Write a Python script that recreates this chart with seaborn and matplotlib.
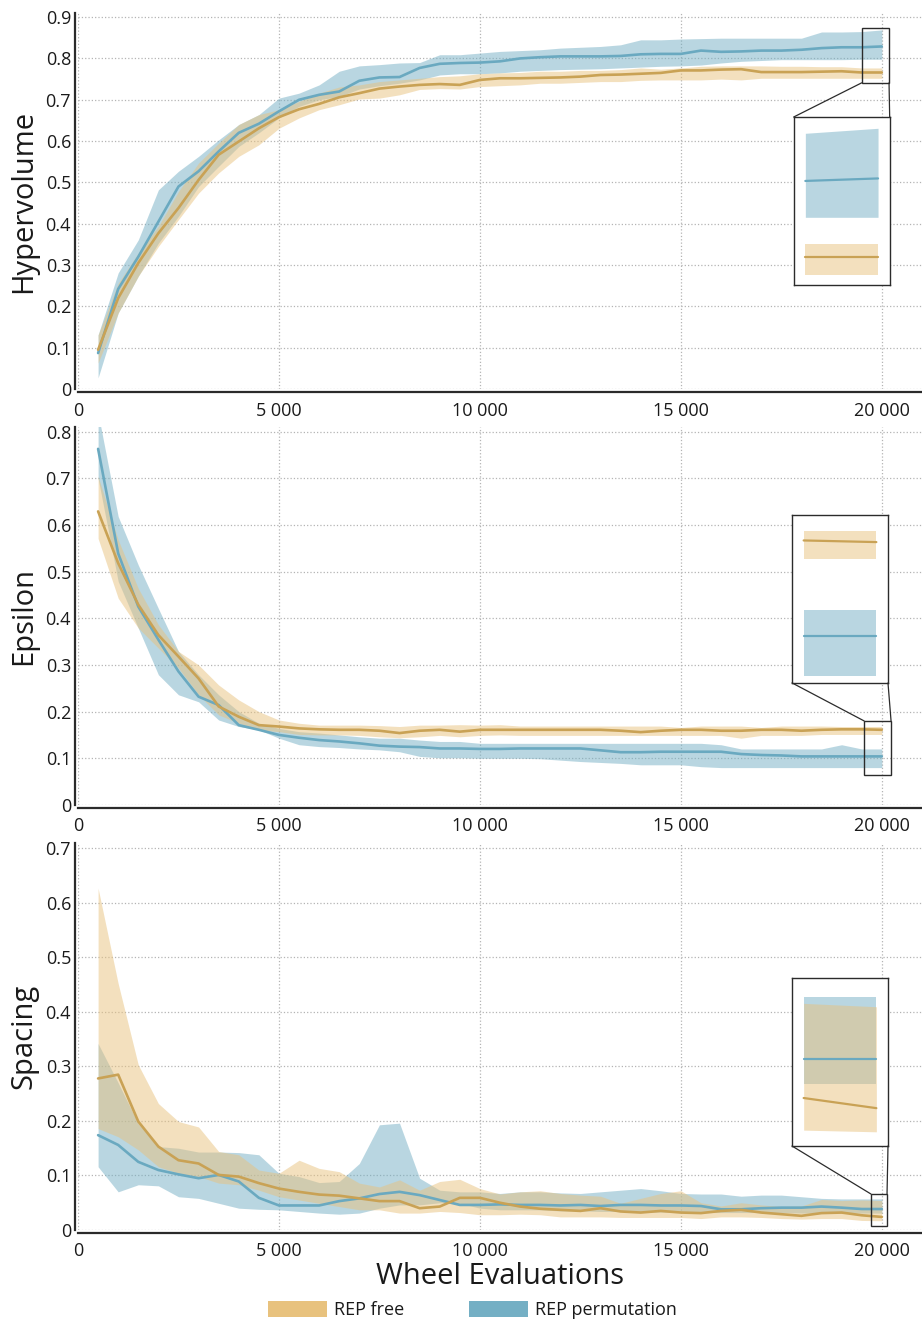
import matplotlib
matplotlib.use("Agg")
import matplotlib.pyplot as plt
import matplotlib.ticker as mticker
from matplotlib.patches import Patch, Rectangle, ConnectionPatch
import numpy as np
import pandas as pd
import seaborn as sns

# ---------------------------------------------------------------- data
EVALS = [500, 1000, 1500, 2000, 2500, 3000, 3500, 4000, 4500, 5000,
         5500, 6000, 6500, 7000, 7500, 8000, 8500, 9000, 9500, 10000,
         10500, 11000, 11500, 12000, 12500, 13000, 13500, 14000, 14500, 15000,
         15500, 16000, 16500, 17000, 17500, 18000, 18500, 19000, 19500, 20000]

SERIES = ["REP free", "REP permutation"]

# Hypervolume
hv_perm_mean = [0.087, 0.242, 0.320, 0.405, 0.490, 0.527, 0.575, 0.620, 0.642, 0.672,
                0.700, 0.712, 0.720, 0.746, 0.754, 0.755, 0.777, 0.787, 0.789, 0.790,
                0.793, 0.800, 0.803, 0.805, 0.805, 0.805, 0.806, 0.810, 0.811, 0.811,
                0.819, 0.816, 0.817, 0.819, 0.819, 0.821, 0.825, 0.827, 0.827, 0.829]
hv_perm_hi = [0.131, 0.281, 0.361, 0.482, 0.527, 0.563, 0.603, 0.640, 0.664, 0.704,
              0.716, 0.736, 0.769, 0.782, 0.785, 0.789, 0.790, 0.809, 0.809, 0.813,
              0.817, 0.819, 0.821, 0.825, 0.827, 0.829, 0.833, 0.845, 0.845, 0.847,
              0.848, 0.849, 0.849, 0.849, 0.849, 0.849, 0.864, 0.864, 0.865, 0.869]
hv_perm_lo = [0.027, 0.184, 0.273, 0.353, 0.418, 0.490, 0.539, 0.587, 0.620, 0.656,
              0.684, 0.700, 0.708, 0.726, 0.734, 0.740, 0.748, 0.760, 0.763, 0.763,
              0.765, 0.769, 0.771, 0.773, 0.774, 0.775, 0.777, 0.779, 0.781, 0.782,
              0.784, 0.789, 0.793, 0.795, 0.797, 0.797, 0.797, 0.797, 0.798, 0.798]
hv_free_mean = [0.095, 0.220, 0.305, 0.377, 0.438, 0.506, 0.567, 0.599, 0.631, 0.658,
                0.677, 0.690, 0.706, 0.716, 0.727, 0.732, 0.736, 0.738, 0.736, 0.748,
                0.752, 0.752, 0.753, 0.754, 0.756, 0.760, 0.761, 0.763, 0.765, 0.771,
                0.771, 0.773, 0.774, 0.767, 0.767, 0.767, 0.768, 0.769, 0.766, 0.766]
hv_free_hi = [0.131, 0.256, 0.329, 0.394, 0.478, 0.547, 0.595, 0.640, 0.664, 0.676,
              0.696, 0.716, 0.731, 0.736, 0.744, 0.748, 0.752, 0.756, 0.758, 0.763,
              0.765, 0.766, 0.769, 0.769, 0.771, 0.771, 0.773, 0.777, 0.774, 0.777,
              0.781, 0.782, 0.782, 0.782, 0.781, 0.781, 0.780, 0.780, 0.777, 0.777]
hv_free_lo = [0.063, 0.184, 0.273, 0.345, 0.410, 0.474, 0.523, 0.563, 0.591, 0.631,
              0.656, 0.676, 0.688, 0.702, 0.704, 0.712, 0.725, 0.727, 0.726, 0.732,
              0.734, 0.736, 0.740, 0.740, 0.742, 0.744, 0.744, 0.747, 0.748, 0.748,
              0.748, 0.750, 0.748, 0.752, 0.752, 0.752, 0.752, 0.752, 0.752, 0.752]

# Epsilon
eps_perm_mean = [0.763, 0.539, 0.425, 0.354, 0.286, 0.232, 0.214, 0.171, 0.161, 0.150,
                 0.144, 0.139, 0.136, 0.132, 0.127, 0.125, 0.124, 0.121, 0.121, 0.120,
                 0.120, 0.121, 0.121, 0.121, 0.121, 0.117, 0.113, 0.113, 0.114, 0.114,
                 0.114, 0.114, 0.109, 0.107, 0.106, 0.104, 0.104, 0.104, 0.104, 0.104]
eps_perm_hi = [0.840, 0.618, 0.514, 0.421, 0.329, 0.279, 0.236, 0.200, 0.175, 0.164,
               0.157, 0.154, 0.150, 0.146, 0.143, 0.143, 0.139, 0.136, 0.136, 0.132,
               0.132, 0.132, 0.132, 0.132, 0.132, 0.132, 0.132, 0.132, 0.132, 0.132,
               0.132, 0.129, 0.120, 0.120, 0.120, 0.120, 0.120, 0.129, 0.120, 0.120]
eps_perm_lo = [0.700, 0.479, 0.379, 0.279, 0.236, 0.221, 0.182, 0.168, 0.161, 0.143,
               0.129, 0.125, 0.123, 0.120, 0.118, 0.114, 0.104, 0.101, 0.101, 0.100,
               0.100, 0.100, 0.099, 0.096, 0.093, 0.091, 0.089, 0.086, 0.086, 0.086,
               0.082, 0.080, 0.080, 0.080, 0.080, 0.080, 0.080, 0.080, 0.080, 0.080]
eps_free_mean = [0.629, 0.518, 0.429, 0.364, 0.318, 0.271, 0.211, 0.189, 0.171, 0.168,
                 0.164, 0.162, 0.161, 0.161, 0.159, 0.154, 0.159, 0.161, 0.157, 0.161,
                 0.161, 0.161, 0.161, 0.161, 0.161, 0.161, 0.159, 0.156, 0.159, 0.161,
                 0.161, 0.159, 0.159, 0.161, 0.161, 0.159, 0.161, 0.162, 0.162, 0.161]
eps_free_hi = [0.704, 0.568, 0.464, 0.386, 0.329, 0.300, 0.257, 0.225, 0.200, 0.182,
               0.175, 0.171, 0.171, 0.171, 0.170, 0.168, 0.171, 0.171, 0.172, 0.171,
               0.172, 0.169, 0.169, 0.169, 0.169, 0.169, 0.169, 0.169, 0.169, 0.166,
               0.169, 0.169, 0.169, 0.166, 0.169, 0.169, 0.169, 0.168, 0.168, 0.168]
eps_free_lo = [0.571, 0.443, 0.379, 0.336, 0.293, 0.236, 0.193, 0.175, 0.161, 0.157,
               0.151, 0.150, 0.150, 0.149, 0.146, 0.144, 0.146, 0.149, 0.146, 0.149,
               0.150, 0.149, 0.149, 0.149, 0.149, 0.149, 0.149, 0.149, 0.149, 0.149,
               0.149, 0.149, 0.143, 0.149, 0.149, 0.149, 0.151, 0.151, 0.151, 0.151]

# Spacing
sp_perm_mean = [0.174, 0.156, 0.125, 0.110, 0.102, 0.095, 0.101, 0.089, 0.059, 0.045,
                0.045, 0.045, 0.053, 0.058, 0.066, 0.070, 0.064, 0.055, 0.046, 0.046,
                0.047, 0.046, 0.046, 0.045, 0.046, 0.044, 0.046, 0.046, 0.045, 0.045,
                0.044, 0.038, 0.038, 0.040, 0.041, 0.041, 0.043, 0.041, 0.0385, 0.0385]
sp_perm_hi = [0.342, 0.270, 0.195, 0.153, 0.150, 0.143, 0.143, 0.142, 0.138, 0.104,
              0.098, 0.087, 0.089, 0.122, 0.193, 0.196, 0.095, 0.073, 0.070, 0.070,
              0.067, 0.070, 0.070, 0.068, 0.067, 0.070, 0.073, 0.076, 0.072, 0.067,
              0.066, 0.066, 0.062, 0.064, 0.064, 0.061, 0.058, 0.057, 0.057, 0.057]
sp_perm_lo = [0.116, 0.070, 0.083, 0.081, 0.061, 0.058, 0.049, 0.040, 0.038, 0.037,
              0.034, 0.031, 0.029, 0.031, 0.040, 0.046, 0.046, 0.050, 0.049, 0.040,
              0.037, 0.037, 0.037, 0.035, 0.035, 0.034, 0.034, 0.033, 0.033, 0.033,
              0.032, 0.032, 0.032, 0.032, 0.032, 0.031, 0.031, 0.031, 0.031, 0.031]
sp_free_mean = [0.278, 0.285, 0.199, 0.153, 0.128, 0.122, 0.101, 0.098, 0.086, 0.076,
                0.070, 0.065, 0.063, 0.058, 0.053, 0.053, 0.040, 0.043, 0.059, 0.059,
                0.050, 0.043, 0.039, 0.037, 0.035, 0.040, 0.034, 0.032, 0.035, 0.032,
                0.031, 0.035, 0.037, 0.032, 0.029, 0.026, 0.031, 0.032, 0.027, 0.024]
sp_free_hi = [0.627, 0.452, 0.303, 0.232, 0.199, 0.189, 0.144, 0.138, 0.110, 0.104,
              0.128, 0.113, 0.107, 0.086, 0.079, 0.092, 0.073, 0.089, 0.093, 0.076,
              0.066, 0.070, 0.072, 0.067, 0.064, 0.062, 0.049, 0.058, 0.067, 0.072,
              0.050, 0.044, 0.050, 0.046, 0.043, 0.044, 0.056, 0.054, 0.055, 0.054]
sp_free_lo = [0.186, 0.171, 0.147, 0.116, 0.104, 0.098, 0.086, 0.083, 0.073, 0.061,
              0.055, 0.049, 0.043, 0.037, 0.037, 0.031, 0.031, 0.034, 0.032, 0.028,
              0.028, 0.029, 0.028, 0.024, 0.024, 0.024, 0.023, 0.023, 0.023, 0.023,
              0.021, 0.024, 0.024, 0.023, 0.021, 0.020, 0.021, 0.021, 0.0175, 0.017]

# ---------------------------------------------------------------- style
sns.set_theme(style="white")
plt.rcParams["font.family"] = ["Open Sans", "DejaVu Sans"]
plt.rcParams["text.color"] = "#1a1a1a"
plt.rcParams["axes.labelcolor"] = "#1a1a1a"
plt.rcParams["xtick.color"] = "#1a1a1a"
plt.rcParams["ytick.color"] = "#1a1a1a"

FILL = {"REP free": "#E8C27E", "REP permutation": "#74AFC4"}
LINE = {"REP free": "#C9A255", "REP permutation": "#6AA9C0"}
DRAW_ORDER = ["REP permutation", "REP free"]   # free band sits on top


def long_frame(free, perm):
    """Tidy frame with mean and band bounds for both series."""
    frames = []
    for name, (m, lo, hi) in (("REP free", free), ("REP permutation", perm)):
        frames.append(pd.DataFrame({"evals": EVALS, "mean": m, "lo": lo,
                                    "hi": hi, "series": name}))
    return pd.concat(frames, ignore_index=True)


panels = [
    ("Hypervolume", long_frame((hv_free_mean, hv_free_lo, hv_free_hi),
                               (hv_perm_mean, hv_perm_lo, hv_perm_hi)),
     0.91, np.arange(0, 0.91, 0.1)),
    ("Epsilon", long_frame((eps_free_mean, eps_free_lo, eps_free_hi),
                           (eps_perm_mean, eps_perm_lo, eps_perm_hi)),
     0.81, np.arange(0, 0.81, 0.1)),
    ("Spacing", long_frame((sp_free_mean, sp_free_lo, sp_free_hi),
                           (sp_perm_mean, sp_perm_lo, sp_perm_hi)),
     0.71, np.arange(0, 0.71, 0.1)),
]

# axes rectangles (figure fraction) and zoom insets
AX_RECTS = [(0.0846, 0.7064, 0.9154, 0.2838),
            (0.0846, 0.3925, 0.9154, 0.2853),
            (0.0846, 0.0717, 0.9154, 0.2921)]
INSET_RECTS = [(0.848, 0.2766, 0.1137, 0.4468),
               (0.846, 0.3228, 0.1137, 0.4444),
               (0.846, 0.2170, 0.1137, 0.4341)]
INSET_YLIM = [(0.744, 0.878), (0.0755, 0.1775), (0.0128, 0.0625)]
INSET_XLIM = (19420, 20080)
# zoom frame on main axes: (x0, x1, y0, y1) and which edge the connectors leave
ZOOM_BOX = [(19500, 20180, 0.741, 0.874, "bottom"),
            (19560, 20230, 0.064, 0.180, "top"),
            (19730, 20130, 0.0073, 0.066, "top")]

EDGE = "#2b2b2b"


def y_fmt(v, _):
    return "0" if abs(v) < 1e-9 else f"{v:.1f}"


def x_fmt(v, _):
    v = int(round(v))
    return "0" if v == 0 else f"{v:,}".replace(",", " ")


fig = plt.figure(figsize=(9.22, 13.25), dpi=100)

for i, (label, df, ytop, yticks) in enumerate(panels):
    ax = fig.add_axes(AX_RECTS[i])
    ax.set_axisbelow(True)

    for name in DRAW_ORDER:
        d = df[df["series"] == name]
        ax.fill_between(d["evals"], d["lo"], d["hi"], color=FILL[name],
                        alpha=0.5, linewidth=0, zorder=2)
    for name in DRAW_ORDER:
        d = df[df["series"] == name]
        sns.lineplot(data=d, x="evals", y="mean", color=LINE[name],
                     linewidth=1.9, ax=ax, zorder=3, legend=False)

    ax.set_xlim(0, 21000)
    ax.set_ylim(0, ytop)
    ax.set_xticks([0, 5000, 10000, 15000, 20000])
    ax.set_yticks(yticks)
    ax.xaxis.set_major_formatter(mticker.FuncFormatter(x_fmt))
    ax.yaxis.set_major_formatter(mticker.FuncFormatter(y_fmt))
    ax.tick_params(axis="both", length=0, labelsize=13)
    ax.tick_params(axis="x", pad=7)
    ax.tick_params(axis="y", pad=3)
    ax.grid(True, linestyle=":", color="#b4b4b4", linewidth=0.9)

    sns.despine(ax=ax, offset=2)
    for s in ("left", "bottom"):
        ax.spines[s].set_color(EDGE)
        ax.spines[s].set_linewidth(1.6)

    ax.set_ylabel(label, fontsize=21)
    ax.yaxis.set_label_coords(-0.047, 0.5)
    ax.set_xlabel("")

    # zoom inset on the final evaluations
    axins = ax.inset_axes(INSET_RECTS[i])
    axins.set_facecolor("white")
    axins.set_zorder(5)
    for name in DRAW_ORDER:
        d = df[df["series"] == name].tail(2)
        axins.fill_between(d["evals"], d["lo"], d["hi"], color=FILL[name],
                           alpha=0.5, linewidth=0)
    for name in DRAW_ORDER:
        d = df[df["series"] == name].tail(2)
        sns.lineplot(data=d, x="evals", y="mean", color=LINE[name],
                     linewidth=1.6, ax=axins, legend=False)
    axins.set_xlim(*INSET_XLIM)
    axins.set_ylim(*INSET_YLIM[i])
    axins.set_xticks([])
    axins.set_yticks([])
    axins.set_xlabel("")
    axins.set_ylabel("")
    axins.grid(False)
    for s in axins.spines.values():
        s.set_visible(True)
        s.set_color(EDGE)
        s.set_linewidth(1.0)

    x0, x1, y0, y1, side = ZOOM_BOX[i]
    ax.add_patch(Rectangle((x0, y0), x1 - x0, y1 - y0, fill=False,
                           edgecolor=EDGE, linewidth=1.0, zorder=6))
    if side == "bottom":
        pairs = [((x0, y0), (0, 1)), ((x1, y0), (1, 1))]
    else:
        pairs = [((x0, y1), (0, 0)), ((x1, y1), (1, 0))]
    for pa, pb in pairs:
        con = ConnectionPatch(xyA=pa, coordsA=ax.transData, xyB=pb,
                              coordsB=axins.transAxes, color=EDGE,
                              linewidth=0.9, zorder=6)
        fig.add_artist(con)

    if i == 2:
        ax.set_xlabel("Wheel Evaluations", fontsize=21)
        ax.xaxis.set_label_coords(0.5, -0.082)

handles = [Patch(facecolor=FILL[n], edgecolor="none") for n in SERIES]
fig.legend(handles, SERIES, loc="center", bbox_to_anchor=(0.512, 0.0113),
           ncol=2, frameon=False, fontsize=13, handlelength=3.3,
           handleheight=0.95, handletextpad=0.35, columnspacing=3.6)

fig.savefig("out.png", dpi=100)
